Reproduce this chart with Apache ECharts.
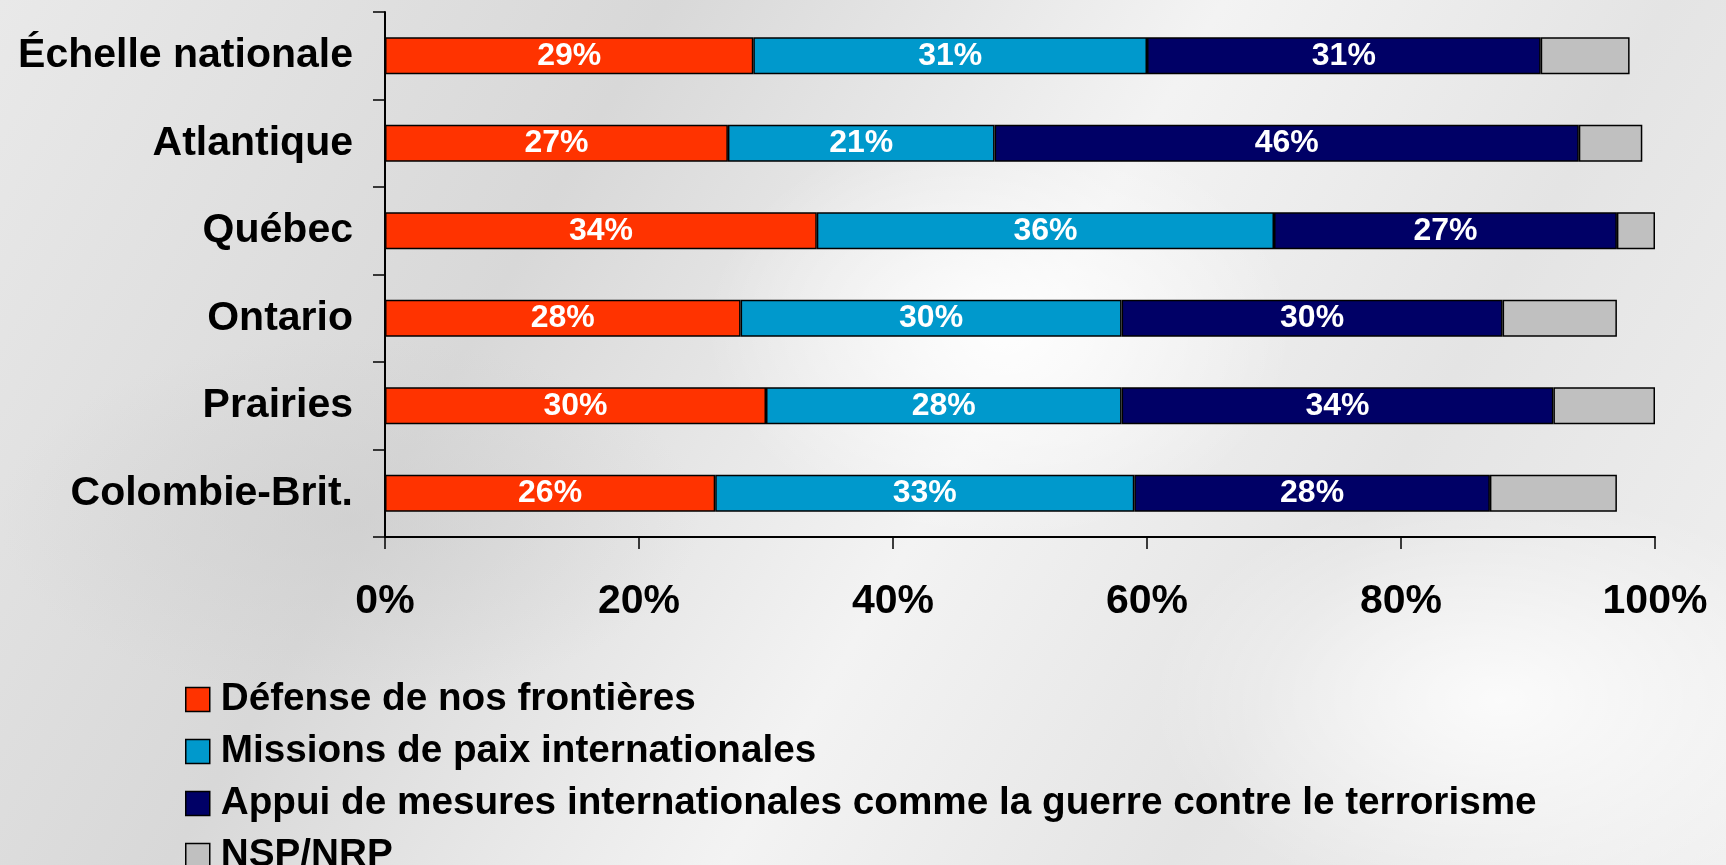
<!DOCTYPE html>
<html>
<head>
<meta charset="utf-8">
<script src="https://cdn.jsdelivr.net/npm/echarts@6/dist/echarts.min.js"></script>
<style>
	html, body {
		margin: 0;
		padding: 0;
	}
	#chart {
		width: 1726px;
		height: 865px;
		background:
			radial-gradient(ellipse 420px 300px at 1000px 330px, rgba(255,255,255,0.9), rgba(255,255,255,0) 70%),
			radial-gradient(ellipse 500px 260px at 350px 520px, rgba(205,205,205,0.6), rgba(205,205,205,0) 70%),
			radial-gradient(ellipse 500px 300px at 1500px 700px, rgba(255,255,255,0.8), rgba(255,255,255,0) 70%),
			linear-gradient(120deg, #e9e9e9 0%, #d8d8d8 30%, #f3f3f3 55%, #e4e4e4 75%, #f1f1f1 100%);
	}
</style>
</head>
<body>
<div id="chart"></div>
<script>
	const categories = ['Échelle nationale', 'Atlantique', 'Québec', 'Ontario', 'Prairies', 'Colombie-Brit.'];
	const defense = [29, 27, 34, 28, 30, 26];
	const missions = [31, 21, 36, 30, 28, 33];
	const appui = [31, 46, 27, 30, 34, 28];
	const nsp = [7, 5, 3, 9, 8, 10];
	const seriesNames = [
		'Défense de nos frontières',
		'Missions de paix internationales',
		'Appui de mesures internationales comme la guerre contre le terrorisme',
		'NSP/NRP'
	];
	const colors = ['#ff3300', '#0099cc', '#000066', '#c0c0c0'];

	const font = '"Liberation Sans", Arial, sans-serif';

	function bar(name, data, color, showLabel) {
		return {
			name,
			type: 'bar',
			stack: 'total',
			data,
			barWidth: 37,
			itemStyle: {
				color,
				borderColor: '#000',
				borderWidth: 1.5
			},
			label: {
				show: showLabel,
				position: 'inside',
				formatter: '{c}%',
				color: '#fff',
				fontFamily: font,
				fontWeight: 'bold',
				fontSize: 32
			}
		}
	}

	var myChart = echarts.init(document.getElementById('chart'));
	var option = {
		animation: false,
		color: colors,
		grid: {
			left: 385,
			right: 71,
			top: 12,
			bottom: 328,
			containLabel: false
		},
		legend: {
			orient: 'vertical',
			left: 185,
			top: 680,
			height: 300,
			padding: 0,
			itemWidth: 24,
			itemHeight: 24,
			itemGap: 13,
			icon: 'rect',
			itemStyle: {
				borderColor: '#000',
				borderWidth: 1.5
			},
			textStyle: {
				fontFamily: font,
				fontWeight: 'bold',
				fontSize: 38.7,
				lineHeight: 38,
				padding: [0, 0, 0, 6],
				color: '#000'
			},
			data: seriesNames
		},
		xAxis: {
			type: 'value',
			min: 0,
			max: 100,
			interval: 20,
			axisLine: { show: true, lineStyle: { color: '#000', width: 2 } },
			axisTick: { show: true, length: 12, lineStyle: { color: '#000', width: 1.5 } },
			splitLine: { show: false },
			axisLabel: {
				formatter: '{value}%',
				margin: 44,
				color: '#000',
				fontFamily: font,
				fontWeight: 'bold',
				fontSize: 41
			}
		},
		yAxis: {
			type: 'category',
			inverse: true,
			data: categories,
			axisLine: { show: true, lineStyle: { color: '#000', width: 2 } },
			axisTick: { show: true, length: 12, lineStyle: { color: '#000', width: 1.5 } },
			axisLabel: {
				margin: 32,
				color: '#000',
				fontFamily: font,
				fontWeight: 'bold',
				fontSize: 41
			}
		},
		series: [
			bar(seriesNames[0], defense, colors[0], true),
			bar(seriesNames[1], missions, colors[1], true),
			bar(seriesNames[2], appui, colors[2], true),
			bar(seriesNames[3], nsp, colors[3], false)
		]
	};
	myChart.setOption(option);
</script>
</body>
</html>
